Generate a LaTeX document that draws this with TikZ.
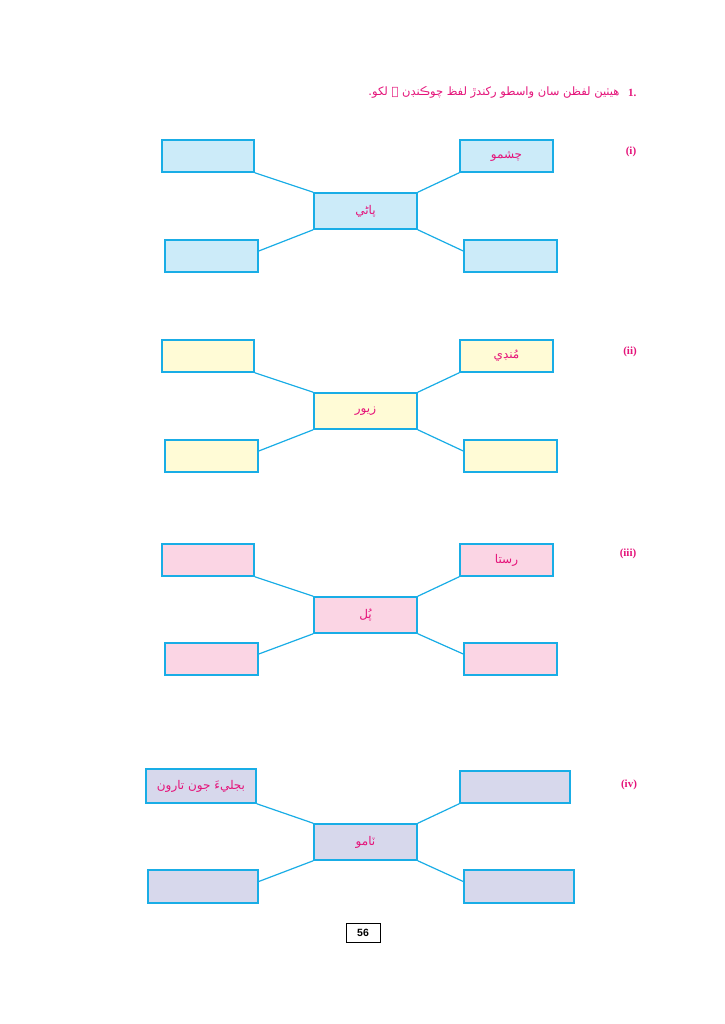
\documentclass[tikz,border=0pt]{standalone}
\usepackage{fontspec}
\TeXXeTstate=1
\newfontfamily\arabicfont[Script=Arabic]{DejaVu Sans}
\newfontfamily\numfont{Liberation Sans}
\newfontfamily\labfont{Liberation Serif}
\definecolor{bordc}{HTML}{19ADE6}
\definecolor{txtc}{HTML}{E5137A}
\definecolor{fblue}{HTML}{CCEBF9}
\definecolor{fyel}{HTML}{FFFBD6}
\definecolor{fpink}{HTML}{FBD5E4}
\definecolor{flav}{HTML}{D7D8EC}
\tikzset{
  wbox/.style={draw=bordc, line width=1.5pt, inner sep=0pt, text=txtc, font=\arabicfont\fontsize{12}{14}\selectfont},
  conn/.style={draw=bordc, line width=1.2pt},
  lab/.style={text=txtc, font=\labfont\bfseries\fontsize{11}{13}\selectfont},
}
\newcommand{\ar}[1]{\beginR #1\endR}
\begin{document}
\begin{tikzpicture}[x=1pt,y=-1pt]
\useasboundingbox (0,0) rectangle (724,1024);
\fill[white] (0,0) rectangle (724,1024);
% title
\node[lab, anchor=east] (n1) at (640,93) {1.};
\node[text=txtc, font=\arabicfont\fontsize{11.5}{13}\selectfont, anchor=east] (title) at (623,93) {\ar{هيٺين لفظن سان واسطو رکندڙ لفظ چوڪنڊن ۾ لکو.}};
% ---- (i)
\node[wbox, fill=fblue, minimum width=92pt, minimum height=32pt] (atl) at (208,156) {};
\node[wbox, fill=fblue, minimum width=93pt, minimum height=32pt] (atr) at (506.5,156) {\ar{چشمو}};
\node[wbox, fill=fblue, minimum width=103pt, minimum height=36pt] (ac) at (365.5,211) {\ar{پاڻي}};
\node[wbox, fill=fblue, minimum width=93pt, minimum height=32pt] (abl) at (211.5,256) {};
\node[wbox, fill=fblue, minimum width=93pt, minimum height=32pt] (abr) at (510.5,256) {};
\draw[conn] (atl.south east) -- (ac.north west);
\draw[conn] (atr.south west) -- (ac.north east);
\draw[conn] ([yshift=5pt]abl.east) -- (ac.south west);
\draw[conn] ([yshift=5pt]abr.west) -- (ac.south east);
\node[lab] (la) at (631,152) {(i)};
% ---- (ii)
\node[wbox, fill=fyel, minimum width=92pt, minimum height=32pt] (btl) at (208,356) {};
\node[wbox, fill=fyel, minimum width=93pt, minimum height=32pt] (btr) at (506.5,356) {\ar{مُنڊي}};
\node[wbox, fill=fyel, minimum width=103pt, minimum height=36pt] (bc) at (365.5,411) {\ar{زيور}};
\node[wbox, fill=fyel, minimum width=93pt, minimum height=32pt] (bbl) at (211.5,456) {};
\node[wbox, fill=fyel, minimum width=93pt, minimum height=32pt] (bbr) at (510.5,456) {};
\draw[conn] (btl.south east) -- (bc.north west);
\draw[conn] (btr.south west) -- (bc.north east);
\draw[conn] ([yshift=5pt]bbl.east) -- (bc.south west);
\draw[conn] ([yshift=5pt]bbr.west) -- (bc.south east);
\node[lab] (lb) at (630,352) {(ii)};
% ---- (iii)
\node[wbox, fill=fpink, minimum width=92pt, minimum height=32pt] (ctl) at (208,560) {};
\node[wbox, fill=fpink, minimum width=93pt, minimum height=32pt] (ctr) at (506.5,560) {\ar{رستا}};
\node[wbox, fill=fpink, minimum width=103pt, minimum height=36pt] (cc) at (365.5,615) {\ar{پُل}};
\node[wbox, fill=fpink, minimum width=93pt, minimum height=32pt] (cbl) at (211.5,659) {};
\node[wbox, fill=fpink, minimum width=93pt, minimum height=32pt] (cbr) at (510.5,659) {};
\draw[conn] (ctl.south east) -- (cc.north west);
\draw[conn] (ctr.south west) -- (cc.north east);
\draw[conn] ([yshift=5pt]cbl.east) -- (cc.south west);
\draw[conn] ([yshift=5pt]cbr.west) -- (cc.south east);
\node[lab] (lc) at (628,554) {(iii)};
% ---- (iv)
\node[wbox, fill=flav, minimum width=110pt, minimum height=34pt] (dtl) at (201,786) {\ar{بجليءَ جون تارون}};
\node[wbox, fill=flav, minimum width=110pt, minimum height=32pt] (dtr) at (515,787) {};
\node[wbox, fill=flav, minimum width=103pt, minimum height=36pt] (dc) at (365.5,842) {\ar{ٽامو}};
\node[wbox, fill=flav, minimum width=110pt, minimum height=33pt] (dbl) at (203,886.5) {};
\node[wbox, fill=flav, minimum width=110pt, minimum height=33pt] (dbr) at (519,886.5) {};
\draw[conn] (dtl.south east) -- (dc.north west);
\draw[conn] (dtr.south west) -- (dc.north east);
\draw[conn] ([yshift=5pt]dbl.east) -- (dc.south west);
\draw[conn] ([yshift=5pt]dbr.west) -- (dc.south east);
\node[lab] (ld) at (629,785) {(iv)};
% page number
\node[draw=black, line width=1pt, minimum width=34pt, minimum height=19pt, inner sep=0pt, font=\numfont\bfseries\fontsize{10.5}{12}\selectfont] (pg) at (363,932.5) {56};
\end{tikzpicture}
\end{document}
